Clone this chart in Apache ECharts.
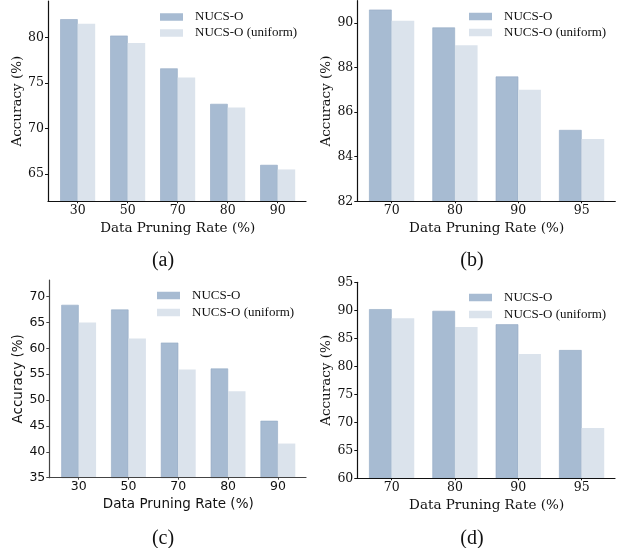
<!DOCTYPE html>
<html>
<head>
<meta charset="utf-8">
<title>Pruning rate bars</title>
<script src="https://cdn.jsdelivr.net/npm/echarts@6/dist/echarts.min.js"></script>
<style>
  html, body { margin: 0; padding: 0; background: #fff; }
  #chart { width: 619px; height: 548px; }
</style>
</head>
<body>
<div id="chart"></div>
<script>
// data
var seriesNames = ['NUCS-O', 'NUCS-O (uniform)'];
var captions = ['(a)', '(b)', '(c)', '(d)'];

var catsA = ['30', '50', '70', '80', '90'];
var nucsA = [82.0, 80.2, 76.6, 72.7, 66.0];
var unifA = [81.5, 79.4, 75.6, 72.3, 65.5];

var catsB = ['70', '80', '90', '95'];
var nucsB = [90.6, 89.8, 87.6, 85.2];
var unifB = [90.1, 89.0, 87.0, 84.8];

var catsC = ['30', '50', '70', '80', '90'];
var nucsC = [68.4, 67.5, 61.1, 56.1, 46.0];
var unifC = [65.0, 61.9, 55.9, 51.7, 41.6];

var catsD = ['70', '80', '90', '95'];
var nucsD = [90.2, 89.9, 87.5, 82.9];
var unifD = [88.6, 87.0, 82.2, 69.0];

var myChart = echarts.init(document.getElementById('chart'));

var colDark = '#a7bbd2';
var colLight = '#dbe3ec';

// frame = where the spines sit, bars = category band (matplotlib margins)
var panels = [
    {cats: catsA, a: nucsA, b: unifA, min: 62, max: 84, interval: null, ends: [false, false],
     frame: [48, 1, 258, 200.3], bars: [52.7, 250], barW: 17.5,
     font: 'DejaVu Serif', axisCol: '#111', legend: [160, 9.5, 1], cap: [158, 246]},
    {cats: catsB, a: nucsB, b: unifB, min: 82, max: 91, interval: null, ends: [true, false],
     frame: [357.3, 0.7, 258, 200.6], bars: [360, 253.3], barW: 22.6,
     font: 'DejaVu Serif', axisCol: '#111', legend: [469, 9, 1], cap: [467, 246]},
    {cats: catsC, a: nucsC, b: unifC, min: 35, max: 73.2, interval: 5, ends: [true, false],
     frame: [49.3, 280, 256.7, 197.7], bars: [53.8, 249], barW: 17.4,
     font: 'DejaVu Sans', axisCol: '#444', legend: [157, 288, 2], cap: [158, 524]},
    {cats: catsD, a: nucsD, b: unifD, min: 60, max: 95, interval: 5, ends: [true, true],
     frame: [357.3, 282.3, 257.7, 196], bars: [360, 253.3], barW: 22.6,
     font: 'DejaVu Serif', axisCol: '#111', legend: [469, 290, 2], cap: [467, 524]}
];

var option = {
    backgroundColor: '#fff',
    animation: false,
    title: [],
    legend: [],
    grid: [],
    xAxis: [],
    yAxis: [],
    series: []
};

panels.forEach(function (p, i) {
    var gFrame = i * 2, gBars = i * 2 + 1;
    option.grid.push({left: p.frame[0], top: p.frame[1], width: p.frame[2], height: p.frame[3]});
    option.grid.push({left: p.bars[0], top: p.frame[1], width: p.bars[1], height: p.frame[3]});

    // spines
    option.xAxis.push({
        type: 'value', gridIndex: gFrame, min: 0, max: 1, z: 5,
        axisLine: {show: true, lineStyle: {color: p.axisCol, width: 1.2}},
        axisTick: {show: false}, axisLabel: {show: false}, splitLine: {show: false}
    });
    var yFrame = {
        type: 'value', gridIndex: gFrame, min: p.min, max: p.max, z: 5,
        name: 'Accuracy (%)', nameLocation: 'middle', nameGap: 23,
        nameTextStyle: {fontFamily: p.font, fontSize: 13.5, color: '#111'},
        axisLine: {show: true, lineStyle: {color: p.axisCol, width: 1.2}},
        axisTick: {show: true, length: 3, lineStyle: {color: p.axisCol}},
        axisLabel: {fontFamily: p.font, fontSize: 12.5, color: '#111', margin: 4,
                    showMinLabel: p.ends[0], showMaxLabel: p.ends[1]},
        splitLine: {show: false}
    };
    if (p.interval) yFrame.interval = p.interval;
    option.yAxis.push(yFrame);

    // bar band
    option.xAxis.push({
        type: 'category', gridIndex: gBars, data: p.cats,
        name: 'Data Pruning Rate (%)', nameLocation: 'middle', nameGap: 20,
        nameTextStyle: {fontFamily: p.font, fontSize: 13.5, color: '#111'},
        axisLine: {show: false},
        axisTick: {show: true, alignWithLabel: true, length: 2, lineStyle: {color: p.axisCol}},
        axisLabel: {fontFamily: p.font, fontSize: 12.5, color: '#111', margin: 3},
        splitLine: {show: false}
    });
    option.yAxis.push({
        type: 'value', gridIndex: gBars, min: p.min, max: p.max, show: false,
        splitLine: {show: false}
    });

    option.series.push({
        name: seriesNames[0], type: 'bar', xAxisIndex: gBars, yAxisIndex: gBars,
        data: p.a, barWidth: p.barW, barGap: '0%',
        itemStyle: {color: colDark, borderColor: '#93aac5', borderWidth: 0.6}
    });
    option.series.push({
        name: seriesNames[1], type: 'bar', xAxisIndex: gBars, yAxisIndex: gBars,
        data: p.b, barWidth: p.barW, barGap: '0%',
        itemStyle: {color: colLight, borderColor: colLight, borderWidth: 0}
    });

    option.legend.push({
        data: seriesNames, orient: 'vertical', left: p.legend[0], top: p.legend[1],
        padding: 0, itemWidth: 23, itemHeight: 7.5, itemGap: p.legend[2], icon: 'rect',
        selectedMode: false, itemStyle: {borderWidth: 0},
        textStyle: {fontFamily: 'Liberation Serif', fontSize: 13, color: '#111',
                    lineHeight: 15, padding: [0, 0, 0, 7]}
    });

    option.title.push({
        text: captions[i], left: p.cap[0], top: p.cap[1], textAlign: 'center',
        textStyle: {fontFamily: 'Liberation Serif', fontSize: 20, fontWeight: 'normal', color: '#111'}
    });
});

myChart.setOption(option);
</script>
</body>
</html>
